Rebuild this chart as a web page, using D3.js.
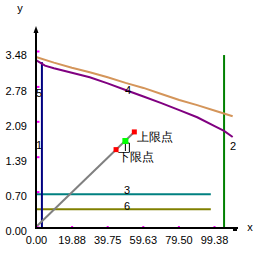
<!DOCTYPE html>
<html><head><meta charset="utf-8">
<script src="https://cdn.jsdelivr.net/npm/d3@7"></script>
<style>body{margin:0;background:#fff}svg{display:block}text{font-family:"Liberation Sans",Arial,sans-serif}</style>
</head><body>
<svg id="c" width="265" height="265"></svg>
<script>
const xTicks = [0, 19.88, 39.75, 59.63, 79.50, 99.38];
const yTicks = [0, 0.70, 1.39, 2.09, 2.78, 3.48];

const orangeX = [0, 10, 20, 30, 40, 50, 60, 70, 80, 90, 100, 109.8];
const orangeY = [3.36, 3.25, 3.15, 3.06, 2.96, 2.85, 2.75, 2.63, 2.51, 2.41, 2.30, 2.19];
const purpleX = [0, 5, 10, 20, 30, 40, 50, 60, 70, 80, 90, 100, 105, 109.8];
const purpleY = [3.30, 3.19, 3.14, 3.05, 2.96, 2.84, 2.71, 2.58, 2.45, 2.31, 2.17, 1.99, 1.90, 1.78];
const tealX = [0, 97.6], tealY = [0.65, 0.65];
const oliveX = [0, 97.6], oliveY = [0.35, 0.35];
const blueX = [3.3, 3.3], blueY = [0, 3.26];
const greenX = [105, 105], greenY = [0, 3.40];
const grayX = [0, 54.9], grayY = [0, 1.88];

const pointNames = ["上限点", "下限点", "mid"];
const pointX = [54.9, 44.7, 49.9];
const pointY = [1.88, 1.53, 1.70];

const labelText = ["1", "2", "3", "4", "5", "6"];
const labelX = [1.7, 110, 50.8, 51.4, 1.7, 50.8];
const labelY = [1.62, 1.60, 0.73, 2.70, 2.65, 0.41];

const svg = d3.select("#c");
const x = d3.scaleLinear().domain([0, 99.38]).range([36, 214]);
const y = d3.scaleLinear().domain([0, 3.48]).range([227, 51]);

const line = d3.line().x(d => x(d[0])).y(d => y(d[1]));
const zip = (a, b) => a.map((v, i) => [v, b[i]]);

const series = [
  [tealX, tealY, "#008080"],
  [oliveX, oliveY, "#808000"],
  [blueX, blueY, "#000080"],
  [greenX, greenY, "#008000"],
  [orangeX, orangeY, "#d4955a"],
  [purpleX, purpleY, "#800080"],
  [grayX, grayY, "#808080"]
];
series.forEach(s => {
  svg.append("path").attr("d", line(zip(s[0], s[1])))
    .attr("fill", "none").attr("stroke", s[2]).attr("stroke-width", 2);
});

// axes
const gx = svg.append("g").attr("transform", "translate(0,228)")
  .call(d3.axisBottom(x).tickValues(xTicks).tickFormat(d3.format(".2f")).tickSizeInner(-2).tickSizeOuter(0).tickPadding(6));
gx.select(".domain").remove();
gx.selectAll(".tick line").attr("stroke", "#ff00ff").attr("stroke-width", 2);
gx.selectAll(".tick text").attr("font-size", 11).attr("font-family", "Liberation Sans, Arial, sans-serif").attr("fill", "#000").attr("y", 8).attr("dy", "0.71em");

const gy = svg.append("g").attr("transform", "translate(36,0)")
  .call(d3.axisLeft(y).tickValues(yTicks).tickFormat(d3.format(".2f")).tickSizeInner(-3).tickSizeOuter(0).tickPadding(9));
gy.select(".domain").remove();
gy.selectAll(".tick line").attr("stroke", "#ff00ff").attr("stroke-width", 2).attr("x1", 0.5).attr("x2", 3.5);
gy.selectAll(".tick text").attr("font-size", 11).attr("font-family", "Liberation Sans, Arial, sans-serif").attr("fill", "#000").attr("dy", "0.7em").attr("y", 0);

// axis lines
svg.append("line").attr("x1", 36).attr("x2", 36).attr("y1", 229).attr("y2", 30).attr("stroke", "#000").attr("stroke-width", 2);
svg.append("path").attr("d", "M36,26 L38.5,33 L33.5,33 Z").attr("fill", "#000");
svg.append("line").attr("x1", 35).attr("x2", 238).attr("y1", 228).attr("y2", 228).attr("stroke", "#000").attr("stroke-width", 2);
svg.append("rect").attr("x", 233).attr("y", 229).attr("width", 4).attr("height", 2).attr("fill", "#000");
svg.append("text").attr("x", 250).attr("y", 231).attr("text-anchor", "middle").attr("font-size", 11).text("x");
svg.append("text").attr("x", 20).attr("y", 12).attr("text-anchor", "middle").attr("font-size", 11).text("y");

// series labels
labelText.forEach((t, i) => {
  svg.append("text").attr("x", x(labelX[i])).attr("y", y(labelY[i])).attr("dy", "0.36em")
    .attr("text-anchor", "middle").attr("font-size", 11).attr("fill", "#000").text(t);
});

// bracket near the middle point
const gxm = x(pointX[2]), gym = y(pointY[2]);
svg.append("path").attr("d", `M${gxm},${gym + 10} V${gym + 2} H${gxm + 4} V${gym + 11}`)
  .attr("fill", "none").attr("stroke", "#000").attr("stroke-width", 1);

// points
const pcol = ["#ff0000", "#ff0000", "#00ff00"];
const psz = [5, 5, 6];
pointX.forEach((v, i) => {
  svg.append("rect").attr("x", x(v) - psz[i] / 2).attr("y", y(pointY[i]) - psz[i] / 2)
    .attr("width", psz[i]).attr("height", psz[i]).attr("fill", pcol[i]);
});
svg.append("text").attr("x", x(pointX[0]) + 3).attr("y", y(pointY[0]) + 5).attr("dy", "0.35em")
  .attr("font-family", "Noto Sans CJK SC").attr("font-size", 12).text(pointNames[0]);
svg.append("text").attr("x", x(pointX[1]) + 2).attr("y", y(pointY[1]) + 7).attr("dy", "0.35em")
  .attr("font-family", "Noto Sans CJK SC").attr("font-size", 12).text(pointNames[1]);
</script>
</body></html>
